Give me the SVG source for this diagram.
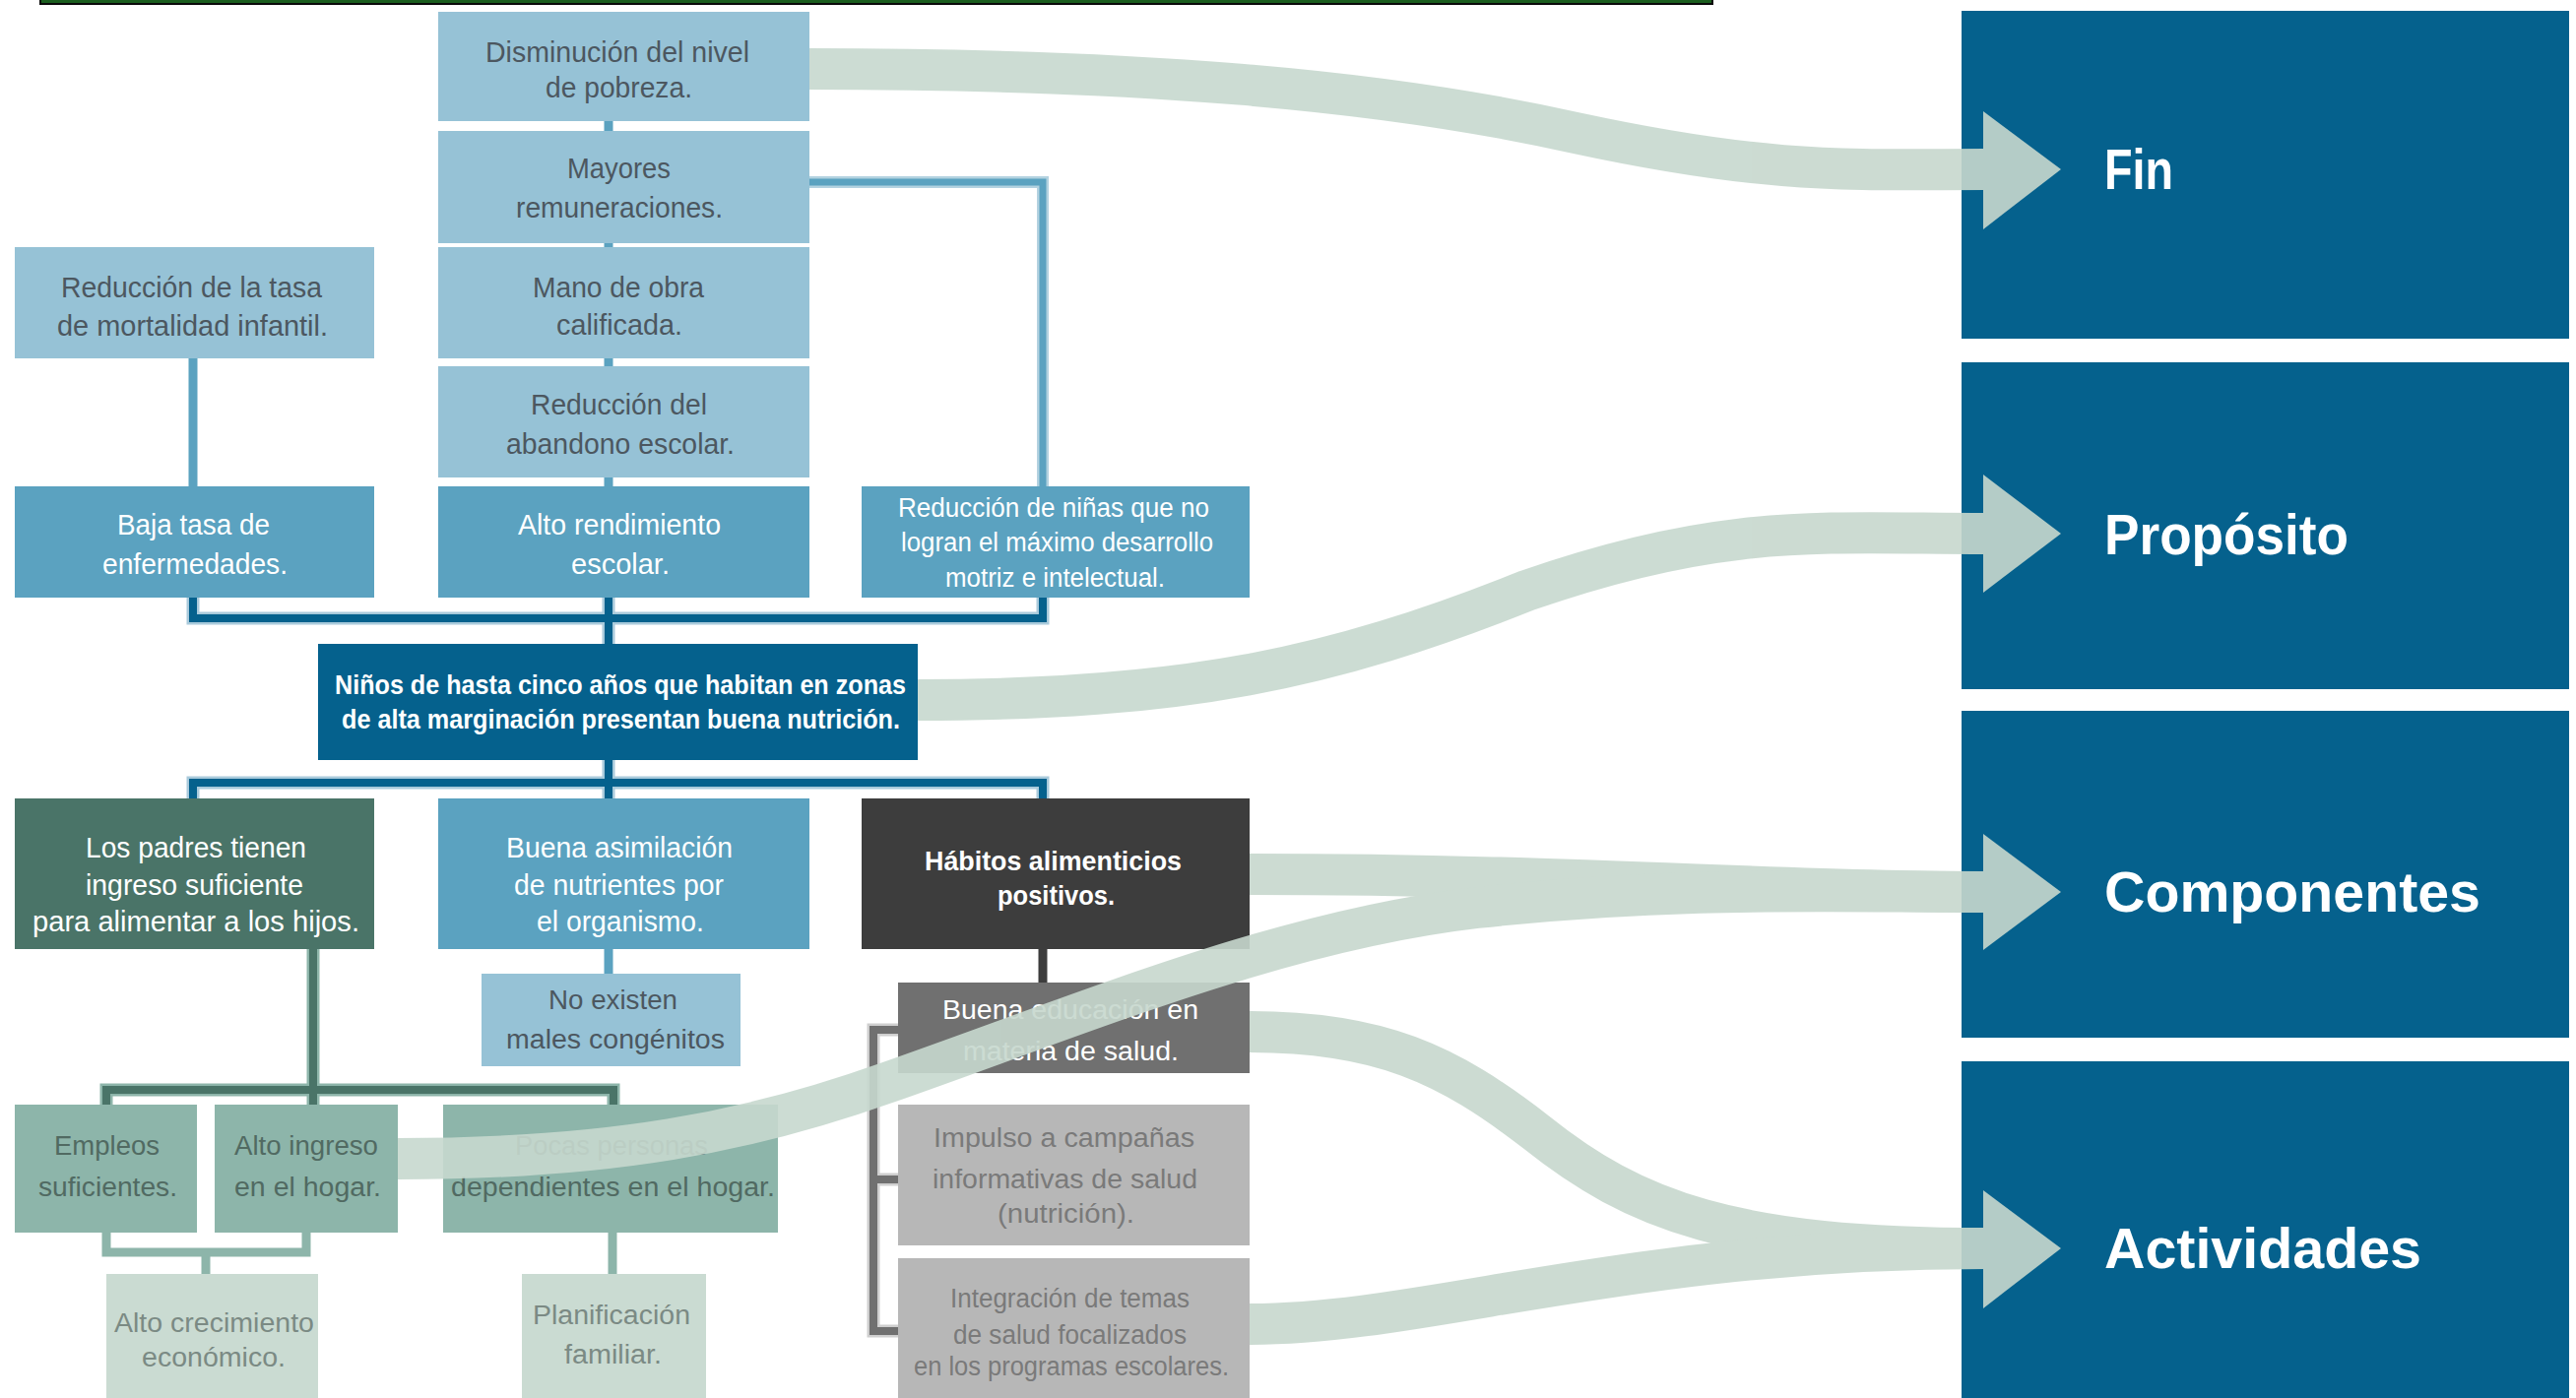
<svg xmlns="http://www.w3.org/2000/svg" width="2616" height="1420" viewBox="0 0 2616 1420">
<style>
text{font-family:"Liberation Sans",Arial,sans-serif;font-size:29px}
.s{font-size:27px}
.b{font-weight:bold}
.dk{fill:#4c5760}
.wh{fill:#ffffff}
.gn{fill:#516a62}
.pg{fill:#7b8a84}
.gy{fill:#7a7a7a}
.hd{font-size:57px;font-weight:bold;fill:#ffffff}
.lb{fill:#96c2d6}
.mb{fill:#5ba2c0}
.db{fill:#05618d}
.dg{fill:#4a7468}
.tl{fill:#8db5aa}
.pl{fill:#cadbd2}
.gr3{fill:#3d3d3d}
.gr7{fill:#707070}
.grl{fill:#b7b7b7}
.c{fill:none;stroke-linejoin:miter;stroke-linecap:butt}
</style>
<rect x="41" y="-3" width="1698" height="7" fill="#1b5e1f" stroke="#0a0a0a" stroke-width="2"/>
<g id="connectors">
  <path class="c" d="M618,123 V494" stroke="#5ba2c0" stroke-width="9"/>
  <path class="c" d="M822,185 H1059 V494" stroke="#b3d2e0" stroke-width="12"/>
  <path class="c" d="M822,185 H1059 V494" stroke="#5ba2c0" stroke-width="7"/>
  <path class="c" d="M196,364 V494" stroke="#5ba2c0" stroke-width="9"/>
  <path class="c" d="M618,964 V989" stroke="#5ba2c0" stroke-width="9"/>
  <path class="c" d="M196,607 V628 H1059 V607 M618,607 V654" stroke="#a9cadb" stroke-width="13"/>
  <path class="c" d="M196,607 V628 H1059 V607 M618,607 V654" stroke="#05618d" stroke-width="8"/>
  <path class="c" d="M618,772 V811 M196,811 V795 H1059 V811" stroke="#a9cadb" stroke-width="13"/>
  <path class="c" d="M618,772 V811 M196,811 V795 H1059 V811" stroke="#05618d" stroke-width="8"/>
  <path class="c" d="M318,964 V1122 M108,1122 V1107 H623 V1122" stroke="#8db5aa" stroke-width="13"/>
  <path class="c" d="M318,964 V1122 M108,1122 V1107 H623 V1122" stroke="#4a7468" stroke-width="8"/>
  <path class="c" d="M108,1252 V1272 H311 V1252 M209,1272 V1294 M622,1252 V1294" stroke="#8db5aa" stroke-width="9"/>
  <path class="c" d="M1059,964 V998" stroke="#3d3d3d" stroke-width="9"/>
  <path class="c" d="M912,1046 H887 V1352 H912 M887,1198 H912" stroke="#cfcfcf" stroke-width="13"/>
  <path class="c" d="M912,1046 H887 V1352 H912 M887,1198 H912" stroke="#707070" stroke-width="8"/>
</g>
<g id="n-disminucion"><rect class="lb" x="445" y="12" width="377" height="111"/>
  <text class="dk" x="493" y="63" textLength="268" lengthAdjust="spacingAndGlyphs">Disminución del nivel</text>
  <text class="dk" x="554" y="99" textLength="149" lengthAdjust="spacingAndGlyphs">de pobreza.</text></g>
<g id="n-mayores"><rect class="lb" x="445" y="133" width="377" height="114"/>
  <text class="dk" x="576" y="181" textLength="105" lengthAdjust="spacingAndGlyphs">Mayores</text>
  <text class="dk" x="524" y="221" textLength="210" lengthAdjust="spacingAndGlyphs">remuneraciones.</text></g>
<g id="n-mano"><rect class="lb" x="445" y="251" width="377" height="113"/>
  <text class="dk" x="541" y="302" textLength="174" lengthAdjust="spacingAndGlyphs">Mano de obra</text>
  <text class="dk" x="565" y="340" textLength="128" lengthAdjust="spacingAndGlyphs">calificada.</text></g>
<g id="n-abandono"><rect class="lb" x="445" y="372" width="377" height="113"/>
  <text class="dk" x="539" y="421" textLength="179" lengthAdjust="spacingAndGlyphs">Reducción del</text>
  <text class="dk" x="514" y="461" textLength="232" lengthAdjust="spacingAndGlyphs">abandono escolar.</text></g>
<g id="n-mortalidad"><rect class="lb" x="15" y="251" width="365" height="113"/>
  <text class="dk" x="62" y="302" textLength="265" lengthAdjust="spacingAndGlyphs">Reducción de la tasa</text>
  <text class="dk" x="58" y="341" textLength="275" lengthAdjust="spacingAndGlyphs">de mortalidad infantil.</text></g>
<g id="n-baja"><rect class="mb" x="15" y="494" width="365" height="113"/>
  <text class="wh" x="119" y="543" textLength="155" lengthAdjust="spacingAndGlyphs">Baja tasa de</text>
  <text class="wh" x="104" y="583" textLength="188" lengthAdjust="spacingAndGlyphs">enfermedades.</text></g>
<g id="n-rendimiento"><rect class="mb" x="445" y="494" width="377" height="113"/>
  <text class="wh" x="526" y="543" textLength="206" lengthAdjust="spacingAndGlyphs">Alto rendimiento</text>
  <text class="wh" x="580" y="583" textLength="100" lengthAdjust="spacingAndGlyphs">escolar.</text></g>
<g id="n-ninas"><rect class="mb" x="875" y="494" width="394" height="113"/>
  <text class="wh s" x="912" y="525" textLength="316" lengthAdjust="spacingAndGlyphs">Reducción de niñas que no</text>
  <text class="wh s" x="915" y="560" textLength="317" lengthAdjust="spacingAndGlyphs">logran el máximo desarrollo</text>
  <text class="wh s" x="960" y="596" textLength="223" lengthAdjust="spacingAndGlyphs">motriz e intelectual.</text></g>
<g id="n-ninos"><rect class="db" x="323" y="654" width="609" height="118"/>
  <text class="wh s b" x="340" y="705" textLength="580" lengthAdjust="spacingAndGlyphs">Niños de hasta cinco años que habitan en zonas</text>
  <text class="wh s b" x="347" y="740" textLength="567" lengthAdjust="spacingAndGlyphs">de alta marginación presentan buena nutrición.</text></g>
<g id="n-padres"><rect class="dg" x="15" y="811" width="365" height="153"/>
  <text class="wh" x="87" y="871" textLength="224" lengthAdjust="spacingAndGlyphs">Los padres tienen</text>
  <text class="wh" x="87" y="909" textLength="221" lengthAdjust="spacingAndGlyphs">ingreso suficiente</text>
  <text class="wh" x="33" y="946" textLength="332" lengthAdjust="spacingAndGlyphs">para alimentar a los hijos.</text></g>
<g id="n-asimilacion"><rect class="mb" x="445" y="811" width="377" height="153"/>
  <text class="wh" x="514" y="871" textLength="230" lengthAdjust="spacingAndGlyphs">Buena asimilación</text>
  <text class="wh" x="522" y="909" textLength="213" lengthAdjust="spacingAndGlyphs">de nutrientes por</text>
  <text class="wh" x="545" y="946" textLength="170" lengthAdjust="spacingAndGlyphs">el organismo.</text></g>
<g id="n-habitos"><rect class="gr3" x="875" y="811" width="394" height="153"/>
  <text class="wh s b" x="939" y="884" textLength="261" lengthAdjust="spacingAndGlyphs">Hábitos alimenticios</text>
  <text class="wh s b" x="1013" y="919" textLength="119" lengthAdjust="spacingAndGlyphs">positivos.</text></g>
<g id="n-congenitos"><rect class="lb" x="489" y="989" width="263" height="94"/>
  <text class="dk s" x="557" y="1025" textLength="131" lengthAdjust="spacingAndGlyphs">No existen</text>
  <text class="dk s" x="514" y="1065" textLength="222" lengthAdjust="spacingAndGlyphs">males congénitos</text></g>
<g id="n-educacion"><rect class="gr7" x="912" y="998" width="357" height="92"/>
  <text class="wh s" x="957" y="1035" textLength="260" lengthAdjust="spacingAndGlyphs">Buena educación en</text>
  <text class="wh s" x="978" y="1077" textLength="219" lengthAdjust="spacingAndGlyphs">materia de salud.</text></g>
<g id="n-impulso"><rect class="grl" x="912" y="1122" width="357" height="143"/>
  <text class="gy s" x="948" y="1165" textLength="265" lengthAdjust="spacingAndGlyphs">Impulso a campañas</text>
  <text class="gy s" x="947" y="1207" textLength="269" lengthAdjust="spacingAndGlyphs">informativas de salud</text>
  <text class="gy s" x="1013" y="1242" textLength="139" lengthAdjust="spacingAndGlyphs">(nutrición).</text></g>
<g id="n-integracion"><rect class="grl" x="912" y="1278" width="357" height="142"/>
  <text class="gy s" x="965" y="1328" textLength="243" lengthAdjust="spacingAndGlyphs">Integración de temas</text>
  <text class="gy s" x="968" y="1365" textLength="237" lengthAdjust="spacingAndGlyphs">de salud focalizados</text>
  <text class="gy s" x="928" y="1397" textLength="320" lengthAdjust="spacingAndGlyphs">en los programas escolares.</text></g>
<g id="n-empleos"><rect class="tl" x="15" y="1122" width="185" height="130"/>
  <text class="gn s" x="55" y="1173" textLength="107" lengthAdjust="spacingAndGlyphs">Empleos</text>
  <text class="gn s" x="39" y="1215" textLength="141" lengthAdjust="spacingAndGlyphs">suficientes.</text></g>
<g id="n-ingreso"><rect class="tl" x="218" y="1122" width="186" height="130"/>
  <text class="gn s" x="238" y="1173" textLength="146" lengthAdjust="spacingAndGlyphs">Alto ingreso</text>
  <text class="gn s" x="238" y="1215" textLength="149" lengthAdjust="spacingAndGlyphs">en el hogar.</text></g>
<g id="n-pocas"><rect class="tl" x="450" y="1122" width="340" height="130"/>
  <text class="gn s" x="523" y="1173" textLength="196" lengthAdjust="spacingAndGlyphs">Pocas personas</text>
  <text class="gn s" x="458" y="1215" textLength="329" lengthAdjust="spacingAndGlyphs">dependientes en el hogar.</text></g>
<g id="n-crecimiento"><rect class="pl" x="108" y="1294" width="215" height="126"/>
  <text class="pg s" x="116" y="1353" textLength="203" lengthAdjust="spacingAndGlyphs">Alto crecimiento</text>
  <text class="pg s" x="144" y="1388" textLength="146" lengthAdjust="spacingAndGlyphs">económico.</text></g>
<g id="n-planificacion"><rect class="pl" x="530" y="1294" width="187" height="126"/>
  <text class="pg s" x="541" y="1345" textLength="160" lengthAdjust="spacingAndGlyphs">Planificación</text>
  <text class="pg s" x="573" y="1385" textLength="99" lengthAdjust="spacingAndGlyphs">familiar.</text></g>
<g id="n-fin"><rect class="db" x="1992" y="11" width="617" height="333"/>
  <text class="hd" x="2137" y="192" textLength="70" lengthAdjust="spacingAndGlyphs">Fin</text></g>
<g id="n-proposito"><rect class="db" x="1992" y="368" width="617" height="332"/>
  <text class="hd" x="2137" y="563" textLength="248" lengthAdjust="spacingAndGlyphs">Propósito</text></g>
<g id="n-componentes"><rect class="db" x="1992" y="722" width="617" height="332"/>
  <text class="hd" x="2137" y="926" textLength="382" lengthAdjust="spacingAndGlyphs">Componentes</text></g>
<g id="n-actividades"><rect class="db" x="1992" y="1078" width="617" height="342"/>
  <text class="hd" x="2137" y="1288" textLength="322" lengthAdjust="spacingAndGlyphs">Actividades</text></g>
<g id="flow-arrows" opacity="0.9">
  <g fill="none" stroke="#c7d8ce" stroke-width="42">
    <path d="M822,70 C1150,70 1400,90 1600,135 C1800,178 1880,172 2016,172"/>
    <path d="M932,711 C1200,711 1350,680 1550,600 C1750,530 1850,542 2016,542"/>
    <path d="M1269,888 C1600,888 1800,906 2016,906"/>
    <path d="M404,1177 C620,1177 760,1150 900,1100 C1100,1030 1300,945 1500,922 C1700,900 1850,906 2016,906"/>
    <path d="M1269,1048 C1400,1048 1470,1080 1560,1150 C1660,1230 1760,1268 2016,1268"/>
    <path d="M1269,1345 C1450,1345 1650,1268 2016,1268"/>
  </g>
  <g fill="#c7d8ce">
    <polygon points="2014,113 2093,172 2014,233"/>
    <polygon points="2014,482 2093,542 2014,602"/>
    <polygon points="2014,847 2093,906 2014,965"/>
    <polygon points="2014,1209 2093,1268 2014,1329"/>
  </g>
</g>
</svg>
